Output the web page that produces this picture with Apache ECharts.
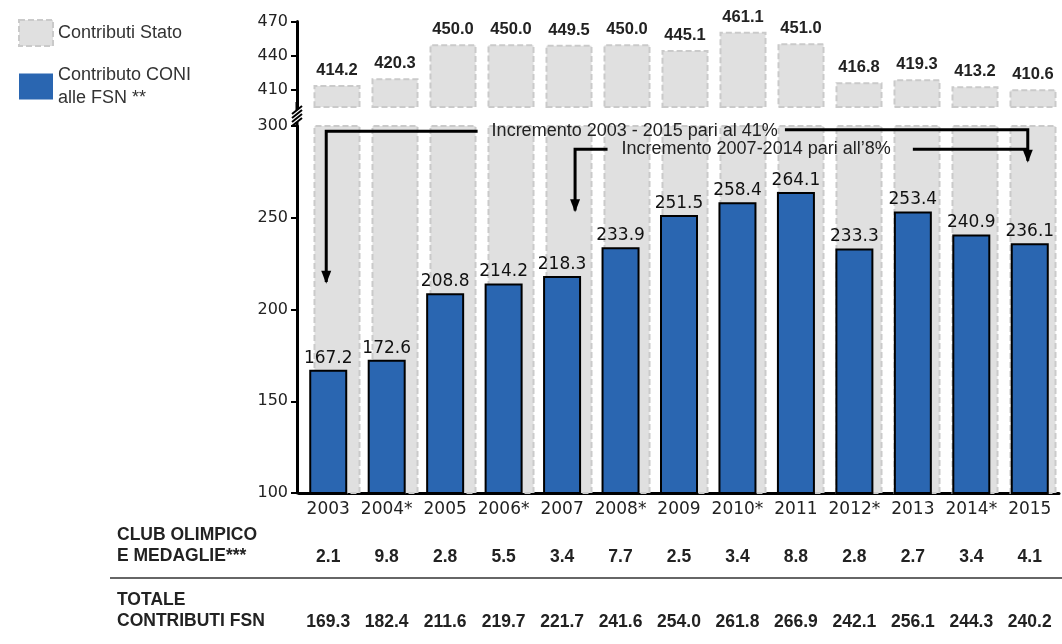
<!DOCTYPE html>
<html><head><meta charset="utf-8">
<script src="https://cdn.jsdelivr.net/npm/echarts@6/dist/echarts.min.js"></script>
<style>html,body{margin:0;padding:0;background:#fff}#c{width:1062px;height:644px}</style>
</head><body><div id="c"></div>
<script>
const years = ['2003','2004*','2005','2006*','2007','2008*','2009','2010*','2011','2012*','2013','2014*','2015'];
const statoValues = [414.2,420.3,450.0,450.0,449.5,450.0,445.1,461.1,451.0,416.8,419.3,413.2,410.6];
const coniValues = [167.2,172.6,208.8,214.2,218.3,233.9,251.5,258.4,264.1,233.3,253.4,240.9,236.1];
const clubValues = [2.1,9.8,2.8,5.5,3.4,7.7,2.5,3.4,8.8,2.8,2.7,3.4,4.1];
const totalValues = [169.3,182.4,211.6,219.7,221.7,241.6,254.0,261.8,266.9,242.1,256.1,244.3,240.2];
const topTicks = [410,440,470];
const seriesNames = ['Contributi Stato','Contributo CONI\nalle FSN **'];
const rowHeaders = ['CLUB OLIMPICO\nE MEDAGLIE***','TOTALE\nCONTRIBUTI FSN'];
const note1 = 'Incremento 2003 - 2015 pari al 41%';
const note2 = 'Incremento 2007-2014 pari all\u20198%';

const BLUE = '#2a66b1';
const GRAY = '#e0e0e0';
const grayStyle = {color: GRAY, borderColor: '#cacaca', borderWidth: 2, borderType: [6,3]};
const narrow = '"Liberation Sans Narrow", "Arial Narrow", "Liberation Sans", sans-serif';
const verd = '"DejaVu Sans", Verdana, sans-serif';
const arial = '"Liberation Sans", Arial, sans-serif';

const chart = echarts.init(document.getElementById('c'), null, {renderer: 'canvas'});
const hiddenAxis = {show: false};
const option = {
  animation: false,
  backgroundColor: '#fff',
  legend: {
    left: 18, top: 19, padding: 0, orient: 'vertical', itemWidth: 34, itemHeight: 26, itemGap: 15,
    icon: 'rect',
    textStyle: {fontFamily: arial, fontSize: 18, color: '#333', lineHeight: 23, padding: [3, 0, 0, 0]},
    data: [
      {name: seriesNames[0], itemStyle: grayStyle},
      {name: seriesNames[1], itemStyle: {color: BLUE, borderWidth: 0}}
    ]
  },
  grid: [
    {left: 299, width: 760, top: 126, height: 367},
    {left: 308, width: 760, top: 126, height: 367},
    {left: 308, width: 760, top: 21.5, height: 85.5}
  ],
  xAxis: [
    {gridIndex: 0, type: 'category', data: years,
     axisLine: {lineStyle: {color: '#000', width: 3}}, axisTick: {show: false},
     axisLabel: {interval: 0, margin: 8, fontFamily: verd, fontSize: 17, color: '#222'}},
    {gridIndex: 0, type: 'category', data: years, position: 'bottom', offset: 47,
     axisLine: {show: false}, axisTick: {show: false},
     axisLabel: {interval: 0, margin: 8, fontFamily: narrow, fontWeight: 'bold', fontSize: 17.5, color: '#222',
       formatter: (v, i) => clubValues[i].toFixed(1)}},
    {gridIndex: 0, type: 'category', data: years, position: 'bottom', offset: 112,
     axisLine: {show: false}, axisTick: {show: false},
     axisLabel: {interval: 0, margin: 8, fontFamily: narrow, fontWeight: 'bold', fontSize: 17.5, color: '#222',
       formatter: (v, i) => totalValues[i].toFixed(1)}},
    Object.assign({gridIndex: 1, type: 'category', data: years}, hiddenAxis),
    Object.assign({gridIndex: 2, type: 'category', data: years}, hiddenAxis)
  ],
  yAxis: [
    {gridIndex: 0, type: 'value', min: 100, max: 300, interval: 50, offset: 2,
     axisLine: {show: true, lineStyle: {color: '#000', width: 3}},
     axisTick: {show: true, length: 6, lineStyle: {color: '#000', width: 2}},
     splitLine: {show: false},
     axisLabel: {margin: 9, fontFamily: verd, fontSize: 16, color: '#222'}},
    {gridIndex: 1, type: 'value', min: 100, max: 300, show: false, splitLine: {show: false}},
    {gridIndex: 2, type: 'value', min: 395, max: 470, offset: 11,
     axisLine: {show: true, lineStyle: {color: '#000', width: 3}},
     axisTick: {show: true, length: 6, customValues: topTicks, lineStyle: {color: '#000', width: 2}},
     splitLine: {show: false},
     axisLabel: {margin: 9, customValues: topTicks, fontFamily: verd, fontSize: 16, color: '#222'}}
  ],
  series: [
    {name: seriesNames[0], type: 'bar', xAxisIndex: 3, yAxisIndex: 1, data: statoValues, barWidth: 47,
     clip: true, z: 1, itemStyle: grayStyle, silent: true},
    {name: seriesNames[0], type: 'bar', xAxisIndex: 4, yAxisIndex: 2, data: statoValues, barWidth: 47,
     clip: true, z: 1, itemStyle: grayStyle,
     label: {show: true, position: 'top', distance: 6, fontFamily: narrow, fontWeight: 'bold', fontSize: 16.5, color: '#222',
       formatter: p => p.value.toFixed(1)}},
    {name: seriesNames[1], type: 'bar', xAxisIndex: 0, yAxisIndex: 0, data: coniValues, barWidth: 38,
     clip: true, z: 3, itemStyle: {color: BLUE, borderColor: '#000', borderWidth: 2},
     label: {show: true, position: 'top', distance: 3, fontFamily: verd, fontSize: 17, color: '#111',
       formatter: p => p.value.toFixed(1)}}
  ]
};
chart.setOption(option);

// annotations positioned from the chart's own scales
const px = (cat, val) => chart.convertToPixel({gridIndex: 0}, [cat, val]);
const X = c => px(c, 200)[0];
const Y = v => px(years[0], v)[1];
const lw = 3;
const lineEl = pts => ({type: 'polyline', shape: {points: pts}, style: {stroke: '#000', lineWidth: lw, fill: null}, z: 10});
const arrowHead = (x, y) => ({type: 'polygon', shape: {points: [[x-5, y-13], [x+5, y-13], [x, y]]}, style: {fill: '#000'}, z: 10});
const y1 = Y(297.2), y2 = Y(287.3);
const xA = X('2003') - 2, xB = X('2015') - 2, xC = X('2007') + 13;
const graphics = [
  lineEl([[xA, Y(215)], [xA, y1], [X('2006*') - 26, y1]]),
  arrowHead(xA, Y(214)),
  {type: 'text', x: X('2006*') - 12, y: y1, style: {text: note1, fontFamily: arial, fontSize: 18, fill: '#222', verticalAlign: 'middle'}, z: 10},
  lineEl([[X('2011') - 11, y1 - 1.5], [xB, y1 - 1.5], [xB, Y(281)]]),
  arrowHead(xB, Y(280)),
  lineEl([[xC, Y(254)], [xC, y2], [X('2008*') - 13, y2]]),
  arrowHead(xC, Y(253)),
  {type: 'text', x: X('2008*') + 1, y: y2, style: {text: note2, fontFamily: arial, fontSize: 18, fill: '#222', verticalAlign: 'middle'}, z: 10},
  lineEl([[X('2013'), y2], [xB, y2]]),
  // axis break marks
  {type: 'group', x: 297, y: 116, z: 10, children: [
    {type: 'line', shape: {x1: -5, y1: -2, x2: 5, y2: -10}, style: {stroke: '#000', lineWidth: 2}},
    {type: 'line', shape: {x1: -5, y1: 2, x2: 5, y2: -6}, style: {stroke: '#000', lineWidth: 2}},
    {type: 'line', shape: {x1: -5, y1: 6, x2: 5, y2: -2}, style: {stroke: '#000', lineWidth: 2}},
    {type: 'line', shape: {x1: -5, y1: 10, x2: 5, y2: 2}, style: {stroke: '#000', lineWidth: 2}},
    {type: 'line', shape: {x1: 0, y1: -14, x2: 0, y2: -6}, style: {stroke: '#000', lineWidth: 3}},
    {type: 'line', shape: {x1: 0, y1: 6, x2: 0, y2: 10}, style: {stroke: '#000', lineWidth: 3}}
  ]},
  // table
  {type: 'text', x: 117, y: 546, style: {text: rowHeaders[0], fontFamily: narrow, fontWeight: 'bold', fontSize: 17.5, lineHeight: 21, fill: '#222', verticalAlign: 'middle'}},
  {type: 'line', shape: {x1: 110, y1: 578, x2: 1062, y2: 578}, style: {stroke: '#333', lineWidth: 1.5}},
  {type: 'text', x: 117, y: 611, style: {text: rowHeaders[1], fontFamily: narrow, fontWeight: 'bold', fontSize: 17.5, lineHeight: 21, fill: '#222', verticalAlign: 'middle'}}
];
chart.setOption({graphic: graphics});
</script>
</body></html>
